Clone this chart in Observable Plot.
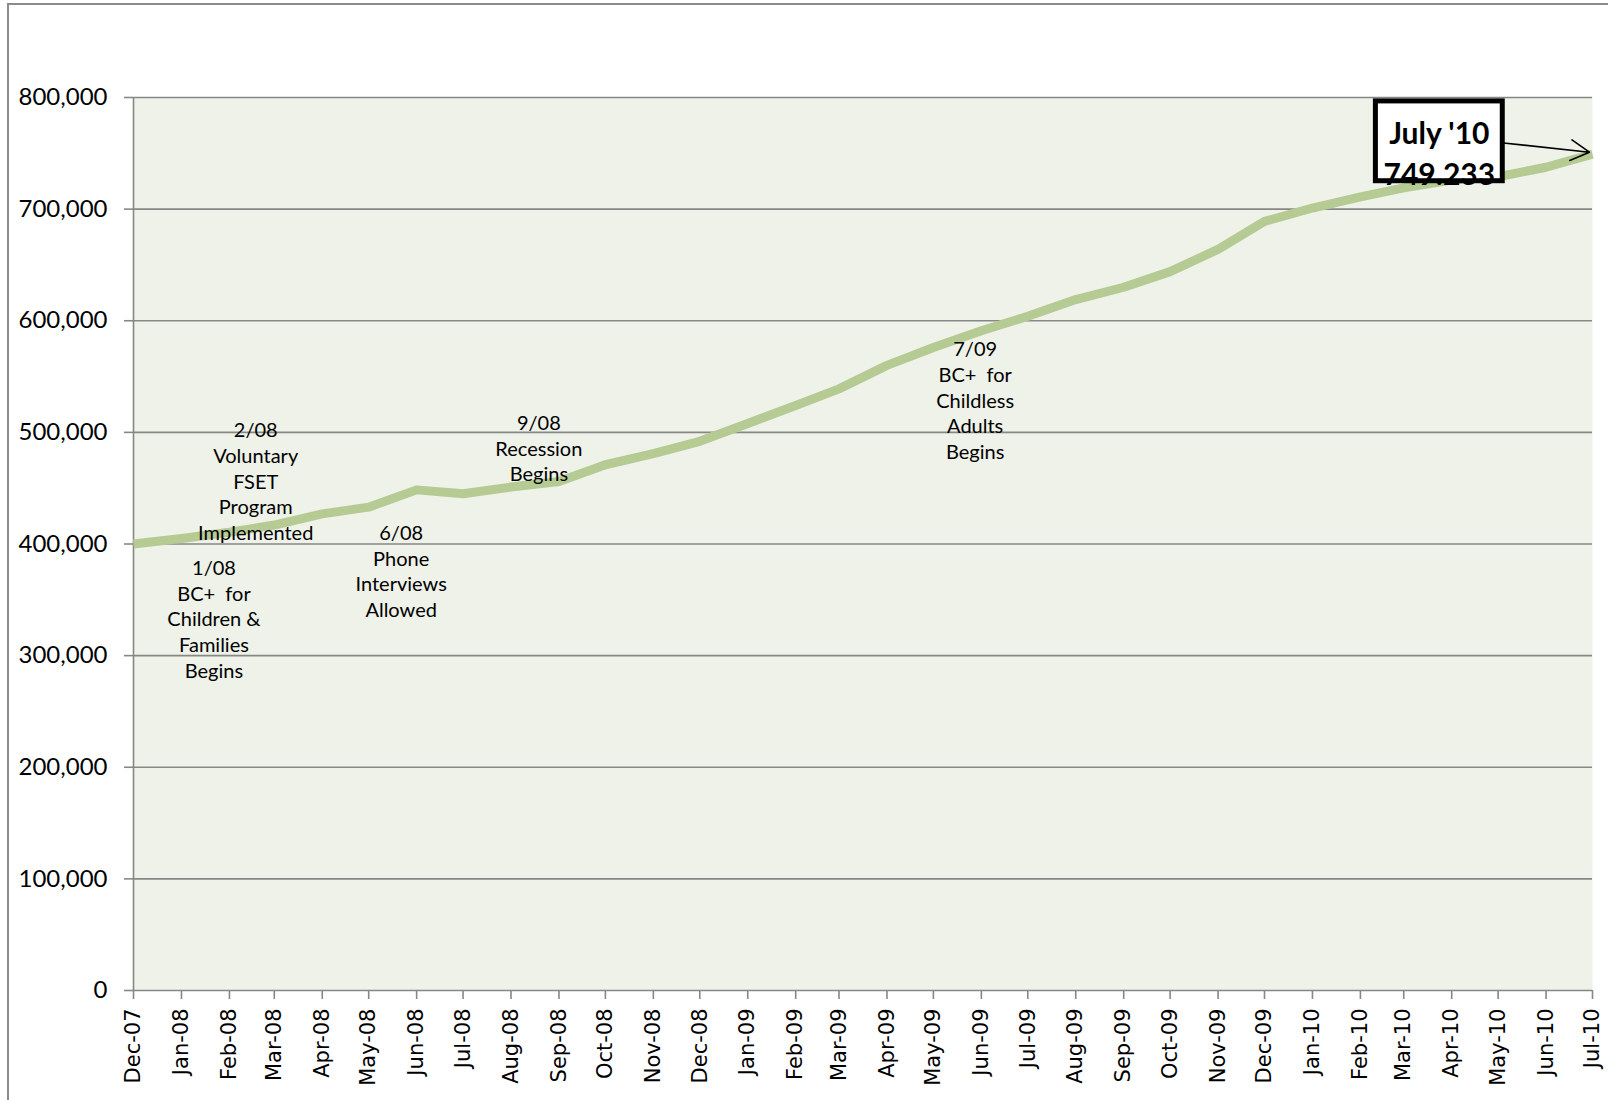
<!DOCTYPE html>
<html>
<head>
<meta charset="utf-8">
<script src="https://cdn.jsdelivr.net/npm/d3@7"></script>
<script src="https://cdn.jsdelivr.net/npm/@observablehq/plot@0.6"></script>
<style>
  html, body { margin: 0; padding: 0; background: #fff; overflow: hidden; }
  #wrap { position: relative; width: 1608px; height: 1100px; }
  #border { position: absolute; left: 7px; top: 3px; right: 0; bottom: 0;
            border-left: 2px solid #8c8c8c; border-top: 2px solid #8c8c8c; }
  #chart { position: absolute; left: 0; top: 0; }
  .anno text { white-space: pre; }
</style>
</head>
<body>
<div id="wrap">
  <div id="border"></div>
  <div id="chart"></div>
</div>
<script>
// ---- data ----
const months = [
  "2007-12-01","2008-01-01","2008-02-01","2008-03-01","2008-04-01","2008-05-01",
  "2008-06-01","2008-07-01","2008-08-01","2008-09-01","2008-10-01","2008-11-01",
  "2008-12-01","2009-01-01","2009-02-01","2009-03-01","2009-04-01","2009-05-01",
  "2009-06-01","2009-07-01","2009-08-01","2009-09-01","2009-10-01","2009-11-01",
  "2009-12-01","2010-01-01","2010-02-01","2010-03-01","2010-04-01","2010-05-01",
  "2010-06-01","2010-07-01"
];
const caseload = [
  400000, 405000, 410500, 417000, 427000, 433000,
  448500, 445000, 451000, 456000, 471000, 481000,
  492000, 508000, 524000, 539000, 560000, 576000,
  591000, 604000, 619000, 630000, 644000, 664000,
  689000, 701000, 711000, 719000, 726000, 729000,
  737500, 749233
];
const yTicks = [0, 100000, 200000, 300000, 400000, 500000, 600000, 700000, 800000];

// event annotations
const annoText = [
  "1/08\nBC+  for\nChildren &\nFamilies\nBegins",
  "2/08\nVoluntary\nFSET\nProgram\nImplemented",
  "6/08\nPhone\nInterviews\nAllowed",
  "9/08\nRecession\nBegins",
  "7/09\nBC+  for\nChildless\nAdults\nBegins"
];
const annoDate = ["2008-01-22", "2008-02-18", "2008-05-22", "2008-08-19", "2009-05-28"];
const annoValue = [333500, 457000, 376500, 486500, 529500];

// callout
const calloutText = ["July '10\n749.233"];
const calloutDate = ["2010-03-24"];
const calloutValue = [752000];
const calloutBox = {x1: "2010-02-11", x2: "2010-05-04", y1: 725000, y2: 796500};
const calloutArrow = {x1: "2010-05-03", y1: 759500, x2: "2010-06-29", y2: 751000};

// ---- build ----
const parse = d3.utcParse("%Y-%m-%d");
const series = months.map((m, i) => ({date: parse(m), value: caseload[i]}));
const tickDates = months.map(parse);
const annos = annoText.map((t, i) => ({text: t, date: parse(annoDate[i]), value: annoValue[i]}));
const callout = calloutText.map((t, i) => ({text: t, date: parse(calloutDate[i]), value: calloutValue[i]}));
const box = [{x1: parse(calloutBox.x1), x2: parse(calloutBox.x2), y1: calloutBox.y1, y2: calloutBox.y2}];
const arrow = [{x1: parse(calloutArrow.x1), x2: parse(calloutArrow.x2), y1: calloutArrow.y1, y2: calloutArrow.y2}];

const grey = "#878787";

const chart = Plot.plot({
  width: 1608,
  height: 1100,
  marginLeft: 133,
  marginRight: 16,
  marginTop: 97,
  marginBottom: 110,
  style: {background: "transparent", fontFamily: "Lato, sans-serif", color: "#000", overflow: "visible"},
  x: {type: "utc", domain: [tickDates[0], tickDates[tickDates.length - 1]], label: null},
  y: {domain: [0, 800000], label: null},
  marks: [
    Plot.frame({fill: "#EEF2E8", stroke: null}),
    Plot.gridY(yTicks, {stroke: grey, strokeOpacity: 1, strokeWidth: 1.6}),
    Plot.ruleX([tickDates[0]], {stroke: grey, strokeWidth: 1.6}),
    Plot.axisY(yTicks, {
      tickSize: 9, tickPadding: 17, fontSize: 24, stroke: grey, strokeWidth: 1.6,
      fill: "#000", tickFormat: d3.format(","), label: null
    }),
    Plot.axisX(tickDates, {
      tickSize: 9, tickPadding: 9, tickRotate: -90, fontSize: 21, fontFamily: "DejaVu Sans",
      stroke: grey, strokeWidth: 1.6,
      fill: "#000", tickFormat: d3.utcFormat("%b-%y"), label: null
    }),
    Plot.line(series, {
      x: "date", y: "value", stroke: "#B5CB93", strokeWidth: 9,
      strokeLinejoin: "round", strokeLinecap: "butt"
    }),
    Plot.text(annos, {
      x: "date", y: "value", text: "text", fontSize: 20, lineHeight: 1.28,
      lineAnchor: "middle", textAnchor: "middle", fill: "#000", className: "anno"
    }),
    Plot.arrow(arrow, {
      x1: "x1", y1: "y1", x2: "x2", y2: "y2", stroke: "#000", strokeWidth: 1.6,
      headLength: 20, headAngle: 58, bend: 0
    }),
    Plot.rect(box, {x1: "x1", x2: "x2", y1: "y1", y2: "y2", fill: "#fff"}),
    Plot.text(callout, {
      x: "date", y: "value", text: "text", fontSize: 30, fontWeight: "bold",
      lineHeight: 1.37, lineAnchor: "middle", textAnchor: "middle", fill: "#000"
    }),
    Plot.rect(box, {x1: "x1", x2: "x2", y1: "y1", y2: "y2", fill: "none", stroke: "#000", strokeWidth: 5})
  ]
});

document.getElementById("chart").appendChild(chart);
</script>
</body>
</html>
